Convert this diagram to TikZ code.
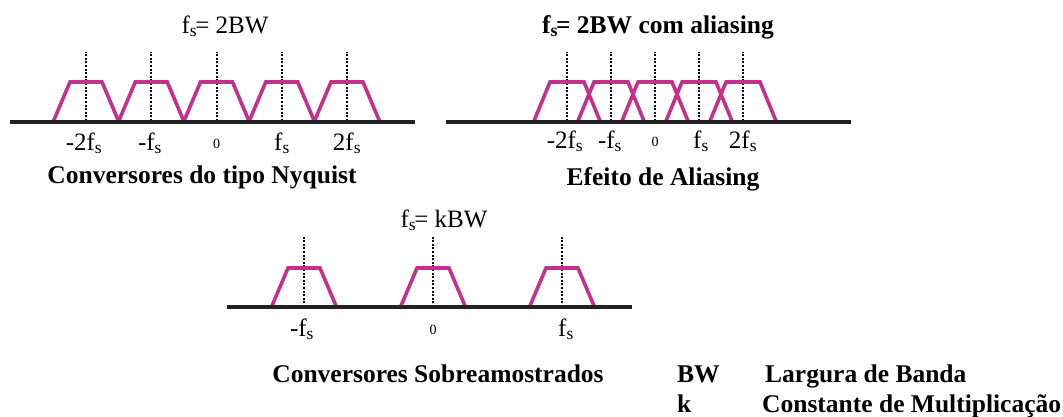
\documentclass[tikz,border=0pt]{standalone}
\usepackage{fontspec}
\setmainfont{Liberation Serif}
\usepackage{xcolor}
\usetikzlibrary{positioning}
\definecolor{band}{HTML}{C4308C}
\definecolor{axisc}{HTML}{222222}

\begin{document}
\begin{tikzpicture}[x=1pt, y=-1pt,
  axisline/.style={draw=axisc, line width=4pt},
  spec/.style={draw=band, line width=3.6pt, line join=miter},
  tick/.style={draw=black, line width=2pt, dash pattern=on 2pt off 1.6pt},
  lbl/.style={anchor=base, inner sep=0pt, font=\fontsize{25}{25}\selectfont},
  zero/.style={anchor=base, inner sep=0pt, font=\fontsize{14}{14}\selectfont},
  captxt/.style={anchor=base, inner sep=0pt, font=\fontsize{25.5}{25.5}\selectfont\bfseries},
  leg/.style={anchor=base west, inner sep=0pt, font=\fontsize{25.5}{25.5}\selectfont\bfseries}
]
\useasboundingbox (0,0) rectangle (1063,416);

% Nyquist
\foreach \c in {86,151.25,216.5,281.75,347}{
  \draw[tick] (\c,121) -- (\c,52);
  \draw[spec] (\c-32.5,121) -- (\c-16,82) -- (\c+16,82) -- (\c+32.5,121);
}
\draw[axisline] (10,121.5) -- (415,121.5);
\node[lbl] (t1) at (225,33) {f\textsubscript{s}\kern-2pt= 2BW};
\node[lbl] (a1) at (84,150) {-2f\textsubscript{s}};
\node[lbl] (b1) at (150,150) {-f\textsubscript{s}};
\node[zero] (o1) at (216.5,148) {0};
\node[lbl] (d1) at (282,150) {f\textsubscript{s}};
\node[lbl] (e1) at (347,150) {2f\textsubscript{s}};
\node[captxt] (c1) at (202,183) {Conversores do tipo Nyquist};

% aliasing
\foreach \c in {567,611,655,699,743}{
  \draw[tick] (\c,121) -- (\c,52);
  \draw[spec] (\c-33,121) -- (\c-17,82) -- (\c+17,82) -- (\c+33,121);
}
\draw[axisline] (446,121.5) -- (851,121.5);
\node[captxt] (t2) at (658,33) {f\textsubscript{s}\kern-2pt= 2BW com aliasing};
\node[lbl] (a2) at (565,148) {-2f\textsubscript{s}};
\node[lbl] (b2) at (610,148) {-f\textsubscript{s}};
\node[zero] (o2) at (655,146) {0};
\node[lbl] (d2) at (701,148) {f\textsubscript{s}};
\node[lbl] (e2) at (743,148) {2f\textsubscript{s}};
\node[captxt] (c2) at (663,185) {Efeito de Aliasing};

% sobreamostrados
\foreach \c in {304,433,562}{
  \draw[tick] (\c,307) -- (\c,237);
  \draw[spec] (\c-32.5,307) -- (\c-16,268) -- (\c+16,268) -- (\c+32.5,307);
}
\draw[axisline] (227,306.5) -- (632,306.5);
\node[lbl] (t3) at (444,227) {f\textsubscript{s}\kern-2pt= kBW};
\node[lbl] (a3) at (302,336) {-f\textsubscript{s}};
\node[zero] (o3) at (433,334) {0};
\node[lbl] (d3) at (566,336) {f\textsubscript{s}};
\node[captxt] (c3) at (438,382) {Conversores Sobreamostrados};

% legenda
\node[leg] (bw) at (677,382) {BW};
\node[leg] (bwt) at (765,382) {Largura de Banda};
\node[leg] (k) at (677,412) {k};
\node[leg] (kt) at (762,412) {Constante de Multiplicação};
\end{tikzpicture}
\end{document}
